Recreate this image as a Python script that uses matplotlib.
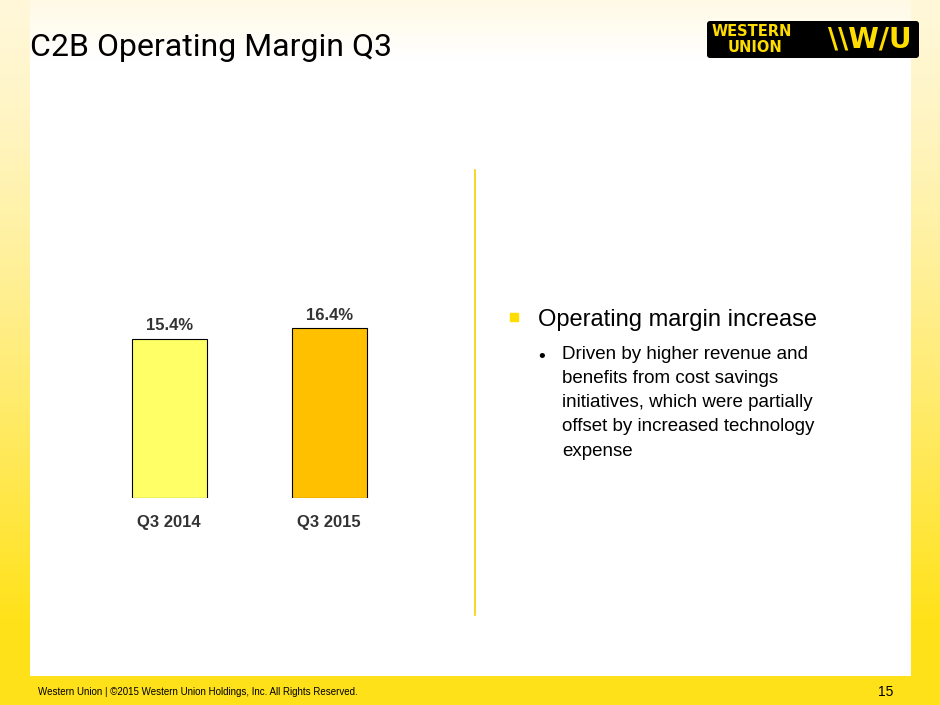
import matplotlib.pyplot as plt
import numpy as np
from matplotlib.patches import FancyBboxPatch

categories = ['Q3 2014', 'Q3 2015']
margins = [15.4, 16.4]
bar_colors = ['#FFFF66', '#FFC000']
bar_labels = ['15.4%', '16.4%']

W, H = 940, 705
fig = plt.figure(figsize=(W / 100, H / 100), dpi=100)

# background: yellow frame fading to pale at the top
yellow = np.array([1.0, 0.886, 0.10])
white = np.array([1.0, 1.0, 1.0])
yy, xx = np.mgrid[0:H, 0:W]
t = np.clip(yy / 620.0, 0, 1) ** 1.3
img = yellow * t[..., None] + np.array([1.0, 0.97, 0.85]) * (1 - t[..., None])
inside = (xx >= 30) & (xx <= 910) & (yy >= 20) & (yy <= 675)
fade = np.clip(yy / 60.0, 0, 1)
img[inside] = white
top = (xx >= 30) & (xx <= 910) & (yy < 60)
img[top] = (white * fade[..., None] + np.array([1.0, 0.98, 0.9]) * (1 - fade[..., None]))[top]
img[yy > 675] = yellow
bg = fig.add_axes([0, 0, 1, 1])
bg.imshow(img, extent=[0, W, H, 0], aspect='auto')
bg.set_xlim(0, W)
bg.set_ylim(H, 0)
bg.axis('off')

# title
bg.text(30, 47, 'C2B Operating Margin Q3', fontsize=23, family='Roboto', va='center',
        color='black', stretch='condensed')

# logo
bg.add_patch(FancyBboxPatch((707, 21), 212, 37, boxstyle='round,pad=0,rounding_size=3',
                            fc='black', ec='none'))
bg.text(712, 32, 'WESTERN', fontsize=10.5, weight='bold', color='#FFDD00', va='center', family='DejaVu Sans')
bg.text(728, 48, 'UNION', fontsize=10.5, weight='bold', color='#FFDD00', va='center', family='DejaVu Sans')
bg.text(828, 40, '\\\\W/U', fontsize=20, weight='bold', color='#FFDD00', va='center', family='DejaVu Sans')

# divider
bg.plot([475, 475], [170, 615], color='#F5D000', lw=1.2)

# bullets
bg.add_patch(plt.Rectangle((510, 313), 8, 8, color='#FFDD00'))
bg.text(538, 320, 'Operating margin increase', fontsize=17, family='Liberation Sans', va='center')
bg.text(538, 357, '•', fontsize=14, family='Liberation Sans', va='center')
bg.text(562, 346, 'Driven by higher revenue and\nbenefits from cost savings\ninitiatives, which were partially\noffset by increased technology\nexpense',
        fontsize=13.5, family='Liberation Sans', va='top', linespacing=1.55)

# footer
bg.text(38, 692, 'Western Union | ©2015 Western Union Holdings, Inc. All Rights Reserved.',
        fontsize=7, family='Liberation Sans', va='center')
bg.text(893, 692, '15', fontsize=10, family='Liberation Sans', va='center', ha='right')

# bar chart: 0 at y=498, 20 at y=291
ax = fig.add_axes([86 / W, (H - 498) / H, 320 / W, 207 / H])
x = np.arange(len(categories))
ax.bar(x, margins, width=0.47, color=bar_colors, edgecolor='black', linewidth=0.8)
for xi, v, lab in zip(x, margins, bar_labels):
    ax.text(xi, v + 0.5, lab, ha='center', va='bottom', fontsize=12, weight='bold',
            family='Liberation Sans', color='#333333')
ax.set_xlim(-0.52, 1.48)
ax.set_ylim(0, 20)
ax.set_xticks(x)
ax.set_xticklabels(categories, fontsize=12, weight='bold', family='Liberation Sans', color='#333333')
ax.tick_params(length=0, pad=12)
ax.set_yticks([])
for s in ax.spines.values():
    s.set_visible(False)
ax.patch.set_alpha(0)

fig.savefig('out.png', dpi=100)
